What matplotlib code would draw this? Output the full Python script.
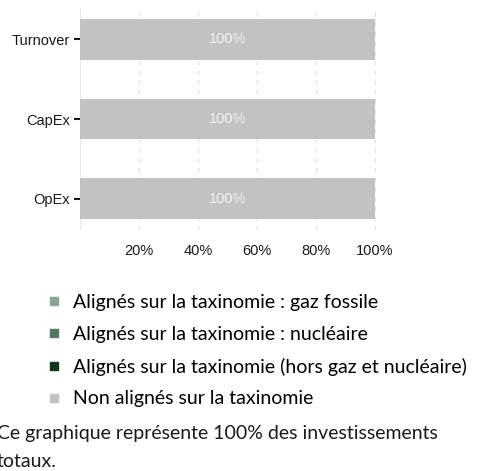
import numpy as np
import matplotlib.pyplot as plt
from matplotlib.lines import Line2D

categories = ["Turnover", "CapEx", "OpEx"]
series = [
    "Alignés sur la taxinomie : gaz fossile",
    "Alignés sur la taxinomie : nucléaire",
    "Alignés sur la taxinomie (hors gaz et nucléaire)",
    "Non alignés sur la taxinomie",
]
colors = ["#8ca592", "#4f7a5e", "#0b3a1a", "#c2c2c2"]
values = [
    [0, 0, 0],      # gaz fossile
    [0, 0, 0],      # nucléaire
    [0, 0, 0],      # hors gaz et nucléaire
    [100, 100, 100],  # non alignés
]
xticks = [20, 40, 60, 80, 100]
note = "Ce graphique représente 100% des investissements\ntotaux."

fig = plt.figure(figsize=(4.78, 4.71), dpi=100)
ax = fig.add_axes([80 / 478, 1 - 230 / 471, 296 / 478, 222 / 471])

y = np.arange(len(categories))
left = np.zeros(len(categories))
for name, vals, c in zip(series, values, colors):
    vals = np.array(vals, dtype=float)
    ax.barh(y, vals, left=left, height=0.51, color=c, zorder=2)
    for yi, l, v in zip(y, left, vals):
        if v > 0 and c == "#c2c2c2":
            ax.text(l + v / 2, yi, f"{v:.0f}%", ha="center", va="center",
                    color="#f2f2f2", fontsize=10.5, family="Liberation Sans", zorder=3)
    left += vals

ax.set_xlim(0, 100.3)
ax.set_ylim(2.39, -0.39)
ax.set_yticks(y)
ax.set_yticklabels(categories, family="Liberation Sans", fontsize=10.5, color="#1a1a1a")
ax.set_xticks(xticks)
ax.set_xticklabels([f"{t}%" for t in xticks], family="Liberation Sans", fontsize=10.5, color="#1a1a1a")
ax.tick_params(axis="x", length=0, pad=10)
ax.tick_params(axis="y", length=4, width=1.5, color="#1a1a1a", pad=3)
for s in ax.spines.values():
    s.set_visible(False)
for t in xticks:
    ax.axvline(t, color="#e3e3e3", lw=1, ls=(0, (3, 4)), zorder=1)
ax.axvline(0, color="#e8e8e8", lw=1.5, zorder=1)

# legend
handles = [Line2D([], [], marker="s", ls="none", markersize=5.5, color=c) for c in colors]
fig.legend(handles, series, loc="upper left", bbox_to_anchor=(45 / 478, 1 - 294 / 471),
           frameon=False, prop={"family": "Lato", "size": 14}, labelspacing=0.76,
           handletextpad=0.55, handlelength=0.9, borderaxespad=0, borderpad=0)

fig.text(-3 / 478, 0.002, note, family="Lato", fontsize=14, color="#1a1a1a",
         va="bottom", ha="left", linespacing=1.8)

fig.savefig("out.png", dpi=100)
